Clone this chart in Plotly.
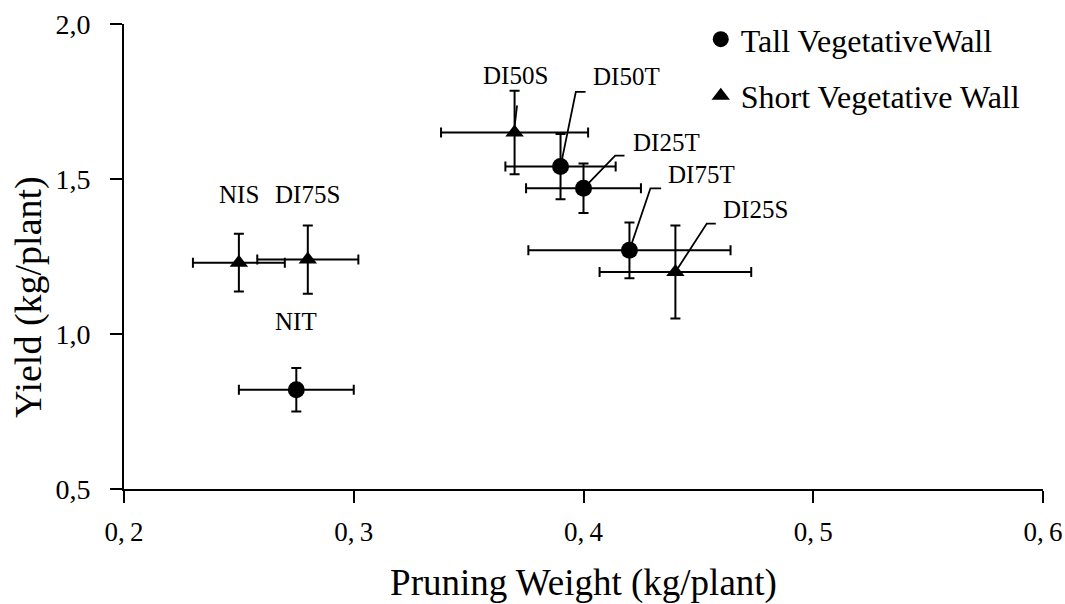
import plotly.graph_objects as go

# ---- data ----
tall_labels = ["NIT", "DI75T", "DI50T", "DI25T"]
tall_x = [0.275, 0.420, 0.390, 0.400]
tall_y = [0.82, 1.27, 1.54, 1.47]
tall_xerr = [0.025, 0.044, 0.024, 0.025]
tall_yerr = [0.07, 0.09, 0.105, 0.08]

short_labels = ["NIS", "DI75S", "DI50S", "DI25S"]
short_x = [0.250, 0.280, 0.370, 0.440]
short_y = [1.23, 1.24, 1.65, 1.20]
short_xerr = [0.020, 0.022, 0.032, 0.033]
short_yerr = [0.093, 0.11, 0.135, 0.15]

x_ticks = [0.2, 0.3, 0.4, 0.5, 0.6]
x_ticktext = ["0,\u20092", "0,\u20093", "0,\u20094", "0,\u20095", "0,\u20096"]
y_ticks = [0.5, 1.0, 1.5, 2.0]
y_ticktext = ["0,5", "1,0", "1,5", "2,0"]

FONT = "Liberation Serif"

# label placement (pixel offsets: text shift, leader path)
label_style = {
    "NIT":   dict(xshift=0, yshift=68, xanchor="center", leader=None),
    "NIS":   dict(xshift=0, yshift=68, xanchor="center", leader=None),
    "DI75S": dict(xshift=0, yshift=65, xanchor="center", leader=None),
    "DI50S": dict(xshift=1, yshift=57, xanchor="center", leader="M 0,6 L 2.5,27"),
    "DI50T": dict(xshift=30, yshift=90, xanchor="left", leader="M 0,0 L 15.3,74.7 L 25,74.7"),
    "DI25T": dict(xshift=47, yshift=46, xanchor="left", leader="M 0,0 L 31.7,32.7 L 41,32.7"),
    "DI75T": dict(xshift=37, yshift=76, xanchor="left", leader="M 0,0 L 21,62 L 31.7,62"),
    "DI25S": dict(xshift=46, yshift=63, xanchor="left", leader="M 0,0 L 31.4,48.4 L 40.4,48.4"),
}

fig = go.Figure()

err_style = dict(type="data", color="black", thickness=2, width=5)

fig.add_trace(go.Scatter(
    x=tall_x, y=tall_y, mode="markers", name="Tall VegetativeWall",
    legendgroup="a",
    marker=dict(symbol="circle", size=17, color="black"),
    error_x=dict(array=tall_xerr, **err_style),
    error_y=dict(array=tall_yerr, **err_style),
))
fig.add_trace(go.Scatter(
    x=short_x, y=short_y, mode="markers", name="Short Vegetative Wall",
    legendgroup="b",
    marker=dict(symbol="triangle-up", size=16, color="black"),
    error_x=dict(array=short_xerr, **err_style),
    error_y=dict(array=short_yerr, **err_style),
))

annotations = []
shapes = []
for labels, xs, ys in [(tall_labels, tall_x, tall_y), (short_labels, short_x, short_y)]:
    for lab, xv, yv in zip(labels, xs, ys):
        st = label_style[lab]
        annotations.append(dict(
            x=xv, y=yv, xref="x", yref="y", text=lab, showarrow=False,
            xanchor=st["xanchor"], yanchor="middle",
            xshift=st["xshift"], yshift=st["yshift"],
            font=dict(family=FONT, size=25, color="black"),
        ))
        if st["leader"]:
            shapes.append(dict(
                type="path", xref="x", yref="y",
                xsizemode="pixel", ysizemode="pixel",
                xanchor=xv, yanchor=yv, path=st["leader"],
                line=dict(color="black", width=1.8), layer="below",
            ))

# y-axis title (placed lower than the axis centre, as in the original)
annotations.append(dict(
    text="Yield (kg/plant)", xref="paper", yref="paper",
    x=-0.1034, y=0.413, xanchor="center", yanchor="middle",
    textangle=-90, showarrow=False,
    font=dict(family=FONT, size=38, color="black"),
))

fig.update_layout(
    width=1065, height=604,
    margin=dict(l=124, r=22, t=22, b=115),
    paper_bgcolor="white", plot_bgcolor="white",
    font=dict(family=FONT, color="black"),
    showlegend=True,
    legend=dict(
        x=0.6276, y=1.026, xanchor="left", yanchor="top",
        font=dict(family=FONT, size=32, color="black"),
        bgcolor="rgba(0,0,0,0)", tracegroupgap=12,
        itemwidth=30,
    ),
    annotations=annotations,
    shapes=shapes,
)

fig.update_xaxes(
    range=[0.2, 0.6], tickvals=x_ticks, ticktext=x_ticktext,
    showline=True, linecolor="black", linewidth=2, mirror=False,
    ticks="outside", ticklen=12, tickwidth=2, tickcolor="black",
    showgrid=False, zeroline=False, automargin=False,
    tickfont=dict(family=FONT, size=27, color="black"),
    ticklabelstandoff=6,
    title=dict(text="Pruning Weight (kg/plant)", font=dict(family=FONT, size=37, color="black"), standoff=24),
)
fig.update_yaxes(
    range=[0.5, 2.0], tickvals=y_ticks, ticktext=y_ticktext,
    showline=True, linecolor="black", linewidth=2, mirror=False,
    ticks="outside", ticklen=12, tickwidth=2, tickcolor="black",
    showgrid=False, zeroline=False, automargin=False,
    tickfont=dict(family=FONT, size=28, color="black"),
    ticklabelstandoff=14,
)

fig.write_html("out.html")
